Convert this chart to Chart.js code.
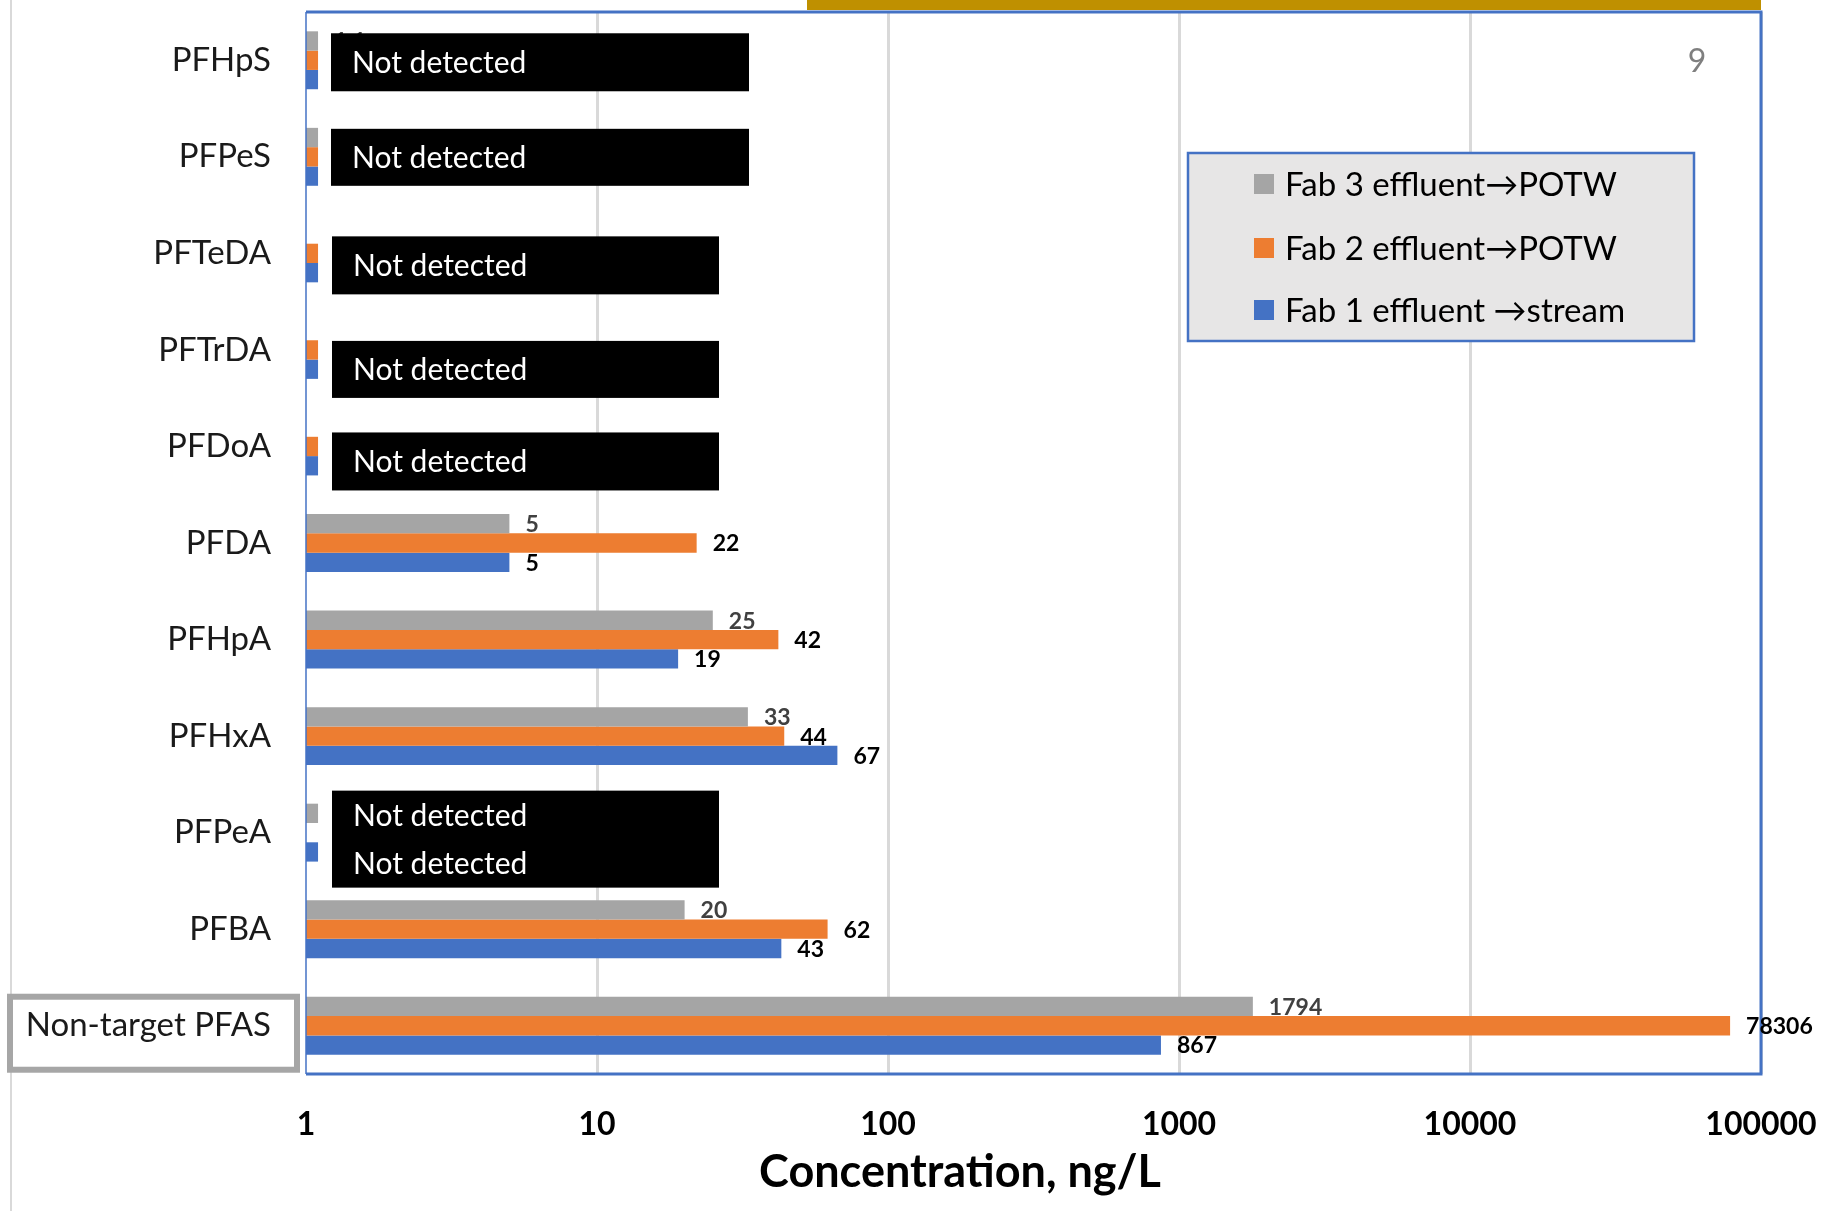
<!DOCTYPE html>
<html>
<head>
<meta charset="utf-8">
<title>PFAS in fab effluents</title>
<script src="https://cdn.jsdelivr.net/npm/chart.js@4.4.0/dist/chart.umd.min.js"></script>
<style>
  html, body { margin: 0; padding: 0; background: #fff; }
  #wrap { width: 1832px; height: 1211px; }
</style>
</head>
<body>
<div id="wrap"><canvas id="pfasChart" width="1832" height="1211"></canvas></div>
<script>
var compounds = ['PFHpS', 'PFPeS', 'PFTeDA', 'PFTrDA', 'PFDoA', 'PFDA', 'PFHpA', 'PFHxA', 'PFPeA', 'PFBA', 'Non-target PFAS'];
var fab3Values = [1.1, 1.1, null, null, null, 5, 25, 33, 1.1, 20, 1794];
var fab2Values = [1.1, 1.1, 1.1, 1.1, 1.1, 22, 42, 44, null, 62, 78306];
var fab1Values = [1.1, 1.1, 1.1, 1.1, 1.1, 5, 19, 67, 1.1, 43, 867];
var seriesNames = ['Fab 3 effluent\u2192POTW', 'Fab 2 effluent\u2192POTW', 'Fab 1 effluent \u2192stream'];
var xTickValues = [1, 10, 100, 1000, 10000, 100000];

var FONT = 'Lato, "Open Sans", "DejaVu Sans", sans-serif';
var barColors = ['#a5a5a5', '#ed7d31', '#4472c4'];
var valueColors = ['#404040', '#000000', '#000000'];

// black cover boxes: offsets from plot left / category centre
var coverBoxes = [
  { cat: 'PFHpS',  dx: 25, dy: -27, w: 418, h: 58, lines: ['Not detected'] },
  { cat: 'PFPeS',  dx: 25, dy: -28, w: 418, h: 57, lines: ['Not detected'] },
  { cat: 'PFTeDA', dx: 26, dy: -17, w: 387, h: 58, lines: ['Not detected'] },
  { cat: 'PFTrDA', dx: 26, dy: -9,  w: 387, h: 57, lines: ['Not detected'] },
  { cat: 'PFDoA',  dx: 26, dy: -14, w: 387, h: 58, lines: ['Not detected'] },
  { cat: 'PFPeA',  dx: 26, dy: -42, w: 387, h: 97, lines: ['Not detected', 'Not detected'] }
];

var decorations = {
  id: 'decorations',
  beforeDraw: function (chart) {
    var c = chart.ctx;
    c.save();
    c.fillStyle = '#ffffff';
    c.fillRect(0, 0, chart.width, chart.height);
    c.fillStyle = '#d9d9d9';
    c.fillRect(10, 0, 2, chart.height);
    c.fillStyle = '#bf9000';
    c.fillRect(807, 0, chart.chartArea.right - 807, 10);
    c.restore();
  },
  afterDatasetsDraw: function (chart) {
    var c = chart.ctx, a = chart.chartArea, ys = chart.scales.y;
    c.save();

    // plot frame
    c.strokeStyle = '#4472c4';
    c.lineWidth = 3;
    c.beginPath();
    c.moveTo(a.left, a.top);
    c.lineTo(a.right, a.top);
    c.lineTo(a.right, a.bottom);
    c.lineTo(a.left, a.bottom);
    c.stroke();
    c.lineWidth = 1.5;
    c.beginPath();
    c.moveTo(a.left, a.top);
    c.lineTo(a.left, a.bottom);
    c.stroke();

    // value labels at bar ends
    c.font = 'bold 23px ' + FONT;
    c.textAlign = 'left';
    c.textBaseline = 'middle';
    chart.data.datasets.forEach(function (ds, i) {
      chart.getDatasetMeta(i).data.forEach(function (bar, j) {
        var v = ds.data[j];
        if (v === null || v === undefined) return;
        c.fillStyle = valueColors[i];
        c.fillText(String(v), bar.x + 16, bar.y + 1);
      });
    });

    // "Not detected" boxes
    coverBoxes.forEach(function (b) {
      var cy = ys.getPixelForValue(compounds.indexOf(b.cat));
      var x = a.left + b.dx, y = cy + b.dy;
      c.fillStyle = '#000000';
      c.fillRect(x, y, b.w, b.h);
      c.fillStyle = '#ffffff';
      c.font = '30px ' + FONT;
      var step = b.h / b.lines.length;
      b.lines.forEach(function (t, k) {
        c.fillText(t, x + 21, y + step * (k + 0.5) + 1);
      });
    });

    // frame around the last category label
    var ly = ys.getPixelForValue(compounds.length - 1);
    c.strokeStyle = '#a6a6a6';
    c.lineWidth = 6;
    c.strokeRect(10, ly - 29, 287, 73);

    // legend
    var lx = 1188, lt = 153, lw = 506, lh = 188;
    c.fillStyle = '#e7e6e6';
    c.fillRect(lx, lt, lw, lh);
    c.strokeStyle = '#4472c4';
    c.lineWidth = 2.5;
    c.strokeRect(lx, lt, lw, lh);
    var rows = [184, 248, 310];
    c.font = '33px ' + FONT;
    chart.data.datasets.forEach(function (ds, i) {
      c.fillStyle = ds.backgroundColor;
      c.fillRect(lx + 66, rows[i] - 10, 20, 20);
      c.fillStyle = '#000000';
      c.fillText(ds.label, lx + 97, rows[i] + 1);
    });

    // stray page number
    c.fillStyle = '#7f7f7f';
    c.font = '32px ' + FONT;
    c.textAlign = 'center';
    c.fillText('9', 1697, 62);

    // axis title
    c.fillStyle = '#000000';
    c.font = 'bold 45px ' + FONT;
    c.fillText('Concentration, ng/L', 960, 1172);
    c.restore();
  }
};

var ctx = document.getElementById('pfasChart').getContext('2d');
var pfasChart = new Chart(ctx, {
  type: 'bar',
  data: {
    labels: compounds,
    datasets: [
      { label: seriesNames[0], data: fab3Values, backgroundColor: barColors[0] },
      { label: seriesNames[1], data: fab2Values, backgroundColor: barColors[1] },
      { label: seriesNames[2], data: fab1Values, backgroundColor: barColors[2] }
    ]
  },
  options: {
    indexAxis: 'y',
    responsive: false,
    animation: false,
    layout: { padding: { top: 12, right: 71, left: 0, bottom: 0 } },
    datasets: {
      bar: { categoryPercentage: 0.6, barPercentage: 1.0 }
    },
    scales: {
      x: {
        type: 'logarithmic',
        min: 1,
        max: 100000,
        afterBuildTicks: function (scale) {
          scale.ticks = xTickValues.map(function (v) { return { value: v }; });
        },
        afterFit: function (scale) {
          scale.height = 137;
          scale.paddingLeft = 0;
          scale.paddingRight = 0;
        },
        ticks: {
          autoSkip: false,
          maxRotation: 0,
          padding: 31,
          color: '#000000',
          font: { family: FONT, size: 32, weight: 'bold' },
          callback: function (v) { return String(v); }
        },
        grid: {
          drawTicks: false,
          lineWidth: 3,
          color: function (ctx) {
            return ctx.tick && ctx.tick.value === 1 ? 'rgba(0,0,0,0)' : '#d9d9d9';
          }
        },
        border: { display: false }
      },
      y: {
        afterFit: function (scale) {
          scale.width = 306;
          scale.paddingTop = 0;
          scale.paddingBottom = 0;
        },
        ticks: {
          padding: 35,
          color: '#1a1a1a',
          font: { family: FONT, size: 33 }
        },
        grid: { display: false, drawTicks: false },
        border: { display: false }
      }
    },
    plugins: {
      legend: { display: false },
      tooltip: { enabled: false }
    }
  },
  plugins: [decorations]
});
</script>
</body>
</html>
